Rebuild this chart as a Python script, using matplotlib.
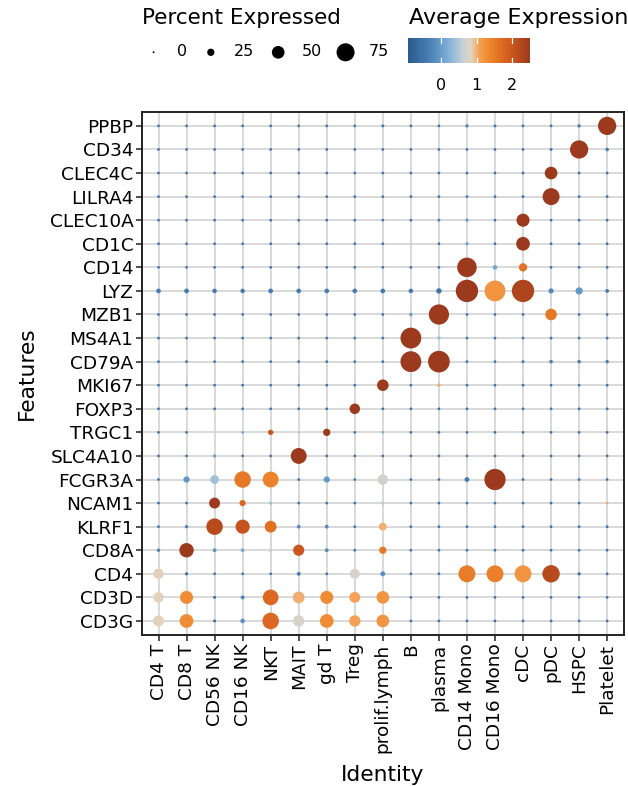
import numpy as np
import matplotlib
matplotlib.use("Agg")
import matplotlib.pyplot as plt
from matplotlib.colors import LinearSegmentedColormap, Normalize

plt.rcParams.update({
    'font.family': 'DejaVu Sans',
    'axes.linewidth': 1.4,
})

identities = ['CD4 T', 'CD8 T', 'CD56 NK', 'CD16 NK', 'NKT', 'MAIT', 'gd T', 'Treg',
              'prolif.lymph', 'B', 'plasma', 'CD14 Mono', 'CD16 Mono', 'cDC', 'pDC',
              'HSPC', 'Platelet']

features = ['PPBP', 'CD34', 'CLEC4C', 'LILRA4', 'CLEC10A', 'CD1C', 'CD14', 'LYZ',
            'MZB1', 'MS4A1', 'CD79A', 'MKI67', 'FOXP3', 'TRGC1', 'SLC4A10', 'FCGR3A',
            'NCAM1', 'KLRF1', 'CD8A', 'CD4', 'CD3D', 'CD3G']

# percent of cells expressing each feature (rows follow `features`)
pct_expressed = [
    [4, 4, 4, 4, 4, 4, 4, 4, 5, 4, 4, 6, 5, 5, 4, 7, 76],
    [4, 4, 4, 4, 4, 4, 4, 4, 4, 4, 4, 4, 4, 4, 5, 76, 8],
    [4, 4, 4, 4, 4, 4, 4, 4, 4, 4, 4, 4, 4, 4, 50, 4, 4],
    [4, 4, 4, 4, 4, 4, 4, 4, 4, 4, 4, 4, 4, 5, 70, 4, 4],
    [4, 4, 4, 4, 4, 4, 4, 4, 4, 4, 5, 6, 4, 52, 4, 4, 4],
    [4, 4, 4, 4, 4, 4, 4, 4, 4, 5, 4, 6, 4, 55, 4, 4, 4],
    [4, 4, 4, 4, 4, 4, 4, 4, 4, 4, 4, 82, 13, 30, 4, 4, 4],
    [13, 13, 12, 12, 13, 13, 13, 13, 13, 12, 16, 95, 88, 95, 15, 25, 9],
    [4, 4, 4, 4, 4, 4, 4, 4, 4, 7, 85, 4, 4, 4, 45, 4, 4],
    [4, 4, 4, 4, 4, 4, 4, 4, 4, 88, 7, 4, 4, 4, 4, 4, 4],
    [4, 4, 4, 4, 4, 4, 4, 4, 4, 88, 92, 4, 4, 5, 8, 8, 7],
    [4, 4, 4, 4, 4, 4, 4, 4, 45, 4, 8, 4, 4, 4, 4, 4, 4],
    [4, 4, 4, 4, 4, 4, 4, 40, 4, 4, 4, 4, 4, 4, 4, 4, 4],
    [4, 4, 4, 4, 16, 4, 25, 4, 4, 4, 4, 4, 4, 4, 4, 4, 4],
    [4, 4, 6, 4, 4, 65, 4, 4, 4, 4, 4, 4, 4, 4, 4, 4, 4],
    [4, 20, 32, 68, 65, 4, 20, 4, 40, 4, 4, 14, 90, 4, 4, 4, 4],
    [4, 4, 42, 20, 7, 4, 4, 4, 7, 4, 4, 4, 4, 4, 4, 4, 3],
    [4, 7, 68, 57, 46, 9, 9, 4, 28, 4, 4, 4, 4, 4, 4, 4, 4],
    [7, 58, 9, 9, 9, 43, 9, 4, 25, 4, 4, 4, 4, 4, 4, 4, 4],
    [40, 6, 4, 4, 4, 9, 4, 38, 14, 4, 4, 70, 70, 70, 72, 6, 4],
    [40, 52, 5, 9, 64, 46, 52, 42, 50, 4, 4, 4, 4, 4, 4, 4, 4],
    [42, 55, 5, 12, 68, 44, 55, 44, 50, 4, 4, 4, 4, 4, 4, 4, 4],
]

# scaled average expression
avg_expression = [
    [-.5, -.5, -.5, -.5, -.5, -.5, -.5, -.5, -.4, -.5, -.5, -.3, -.4, -.4, -.5, -.3, 2.5],
    [-.5, -.5, -.5, -.5, -.5, -.5, -.5, -.5, -.5, -.5, -.5, -.5, -.5, -.5, -.45, 2.5, -.3],
    [-.5, -.5, -.5, -.5, -.5, -.5, -.5, -.5, -.5, -.5, -.5, -.5, -.5, -.5, 2.5, -.5, -.5],
    [-.5, -.5, -.5, -.5, -.5, -.5, -.5, -.5, -.5, -.5, -.5, -.5, -.5, -.4, 2.5, -.5, -.5],
    [-.5, -.5, -.5, -.5, -.5, -.5, -.5, -.5, -.5, -.5, -.3, -.05, -.5, 2.5, -.5, -.5, -.5],
    [-.5, -.5, -.5, -.5, -.5, -.5, -.5, -.5, -.5, .75, -.5, 0, -.5, 2.5, -.5, -.5, -.5],
    [-.5, -.5, -.5, -.5, -.5, -.5, -.5, -.5, -.5, -.5, -.5, 2.5, .1, 1.6, -.5, -.5, -.5],
    [-.4, -.4, -.45, -.45, -.4, -.4, -.4, -.4, -.45, -.45, -.55, 2.5, 1.2, 2.3, -.25, -.05, -.4],
    [-.5, -.5, -.5, -.5, -.5, -.5, -.5, -.5, -.5, 0, 2.5, -.5, -.5, -.5, 1.55, -.5, -.5],
    [-.5, -.5, -.5, -.5, -.5, -.5, -.5, -.5, -.5, 2.5, .35, -.5, -.5, -.5, -.5, -.5, -.5],
    [-.5, -.5, -.5, -.5, -.5, -.5, -.5, -.5, -.5, 2.5, 2.5, -.5, -.5, -.4, -.3, -.3, -.4],
    [-.5, -.5, -.5, -.5, -.5, -.5, -.5, -.5, 2.5, -.5, 1.0, -.5, -.5, -.5, -.5, -.5, -.5],
    [-.5, -.5, -.5, -.5, -.5, -.5, -.5, 2.5, -.5, -.5, -.5, -.5, -.5, -.5, -.5, -.5, -.5],
    [-.5, -.5, .75, .1, 2.0, .6, 2.5, -.5, .2, -.5, -.5, -.5, -.5, -.5, -.5, -.5, -.5],
    [-.5, -.5, 0, -.5, -.5, 2.5, -.5, -.5, -.5, -.5, -.5, -.5, -.5, -.5, -.5, -.5, -.5],
    [-.5, -.1, .4, 1.55, 1.4, -.5, -.05, -.5, .7, -.5, -.5, -.35, 2.5, -.5, -.5, -.5, -.5],
    [-.5, -.5, 2.5, 1.75, .4, -.5, -.5, -.5, .55, -.5, -.5, -.5, -.5, -.5, -.5, -.5, 1.0],
    [-.5, -.3, 2.2, 2.05, 1.65, -.2, -.2, -.5, 1.0, -.5, -.5, -.5, -.5, -.5, -.5, -.5, -.5],
    [-.3, 2.5, -.1, .15, .6, 2.0, -.2, -.5, 1.55, -.5, -.5, -.5, -.5, -.5, -.5, -.5, -.5],
    [.85, -.6, -.5, -.5, -.5, -.4, -.5, .75, -.15, -.5, -.5, 1.5, 1.45, 1.2, 2.2, -.6, -.5],
    [.85, 1.3, -.6, -.3, 1.75, 1.0, 1.3, 1.05, 1.2, -.5, -.5, -.5, -.5, -.5, -.5, -.5, -.5],
    [.85, 1.3, -.6, -.2, 1.75, .75, 1.3, 1.05, 1.2, -.5, -.5, -.5, -.5, -.5, -.5, -.5, -.5],
]

size_breaks = [0, 25, 50, 75]
color_ticks = [0, 1, 2]
vmin, vmax = -0.94, 2.5

# blue -> beige -> orange -> rust gradient
stops = [(-0.94, '#2b5a8b'), (-0.3, '#4b82b8'), (0.2, '#7fb1d8'), (0.6, '#c5d0d8'),
         (0.85, '#e2d3bf'), (1.05, '#f4a35a'), (1.35, '#ef882c'), (1.9, '#d45c1e'),
         (2.5, '#9c3a1e')]
cmap = LinearSegmentedColormap.from_list(
    'expr', [((v - vmin) / (vmax - vmin), c) for v, c in stops])
norm = Normalize(vmin=vmin, vmax=vmax, clip=True)


def dot_area(pct):
    # radius scales linearly with percent; returns marker area in pt^2
    d_px = 1.9 + 0.215 * np.asarray(pct, dtype=float)
    return (d_px * 0.72) ** 2


pct = np.array(pct_expressed)
expr = np.array(avg_expression)
xx, yy = np.meshgrid(np.arange(1, len(identities) + 1), np.arange(1, len(features) + 1))

fig = plt.figure(figsize=(6.28, 7.87), dpi=100)
ax = fig.add_axes([0.2256, 0.193, 0.768, 0.665])

ax.scatter(xx.ravel(), yy.ravel(), s=dot_area(pct.ravel()), c=expr.ravel(),
           cmap=cmap, norm=norm, edgecolors='none', zorder=3)

ax.set_xlim(0.4, len(identities) + 0.6)
ax.set_ylim(len(features) + 0.6, 0.4)
ax.set_xticks(np.arange(1, len(identities) + 1))
ax.set_xticklabels(identities, rotation=90, fontsize=13.3)
ax.set_yticks(np.arange(1, len(features) + 1))
ax.set_yticklabels(features, fontsize=13.3)
ax.grid(True, color='#cfcfcf', linewidth=1.1, zorder=0)
ax.set_axisbelow(True)
for s in ax.spines.values():
    s.set_color('#222222')
ax.tick_params(length=4, width=1.1, color='#222222', pad=2)
ax.set_xlabel('Identity', fontsize=15.7, labelpad=9)
ax.set_ylabel('Features', fontsize=15.7, labelpad=9)

# size legend
fig.text(142 / 628, 1 - 18 / 787, 'Percent Expressed', fontsize=15.5,
         ha='left', va='center')
handles = [ax.scatter([], [], s=dot_area(p), color='black', edgecolors='none')
           for p in size_breaks]
leg = fig.legend(handles, [str(p) for p in size_breaks], ncol=4, frameon=False,
                 fontsize=11.5, loc='center left',
                 bbox_to_anchor=(144 / 628, 1 - 52 / 787),
                 handletextpad=0.85, columnspacing=0.9,
                 borderaxespad=0, borderpad=0, handlelength=1.2)

# colour bar
fig.text(409 / 628, 1 - 18 / 787, 'Average Expression', fontsize=16,
         ha='left', va='center')
cax = fig.add_axes([408 / 628, 1 - 62.7 / 787, 122 / 628, 24.4 / 787])
sm = plt.cm.ScalarMappable(norm=norm, cmap=cmap)
cb = fig.colorbar(sm, cax=cax, orientation='horizontal')
cb.outline.set_visible(False)
cb.set_ticks(color_ticks)
cb.ax.tick_params(length=0, labelsize=11.5, pad=11)
for t in color_ticks:
    cax.plot([t, t], [0, 0.2], color='white', lw=0.9, transform=cax.get_xaxis_transform())
    cax.plot([t, t], [0.8, 1], color='white', lw=0.9, transform=cax.get_xaxis_transform())

fig.savefig('out.png', dpi=100)
